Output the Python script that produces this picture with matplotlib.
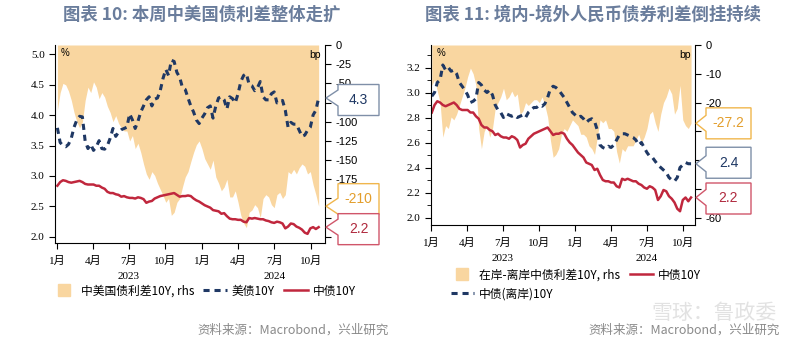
import pandas as pd
import matplotlib
matplotlib.use('Agg')
import matplotlib.pyplot as plt
import matplotlib.transforms as mtransforms
from matplotlib.patches import Polygon
from matplotlib.lines import Line2D
from matplotlib.ticker import FormatStrFormatter, MultipleLocator

plt.rcParams['font.family'] = ['Liberation Serif', 'Noto Sans CJK SC']

# weekly observations starting first Monday of 2023
dates = pd.date_range('2023-01-02', periods=95, freq='7D')

us_10y = [3.79, 3.55, 3.50, 3.48, 3.52, 3.62, 3.80, 3.92, 3.98, 3.97,
          3.57, 3.45, 3.52, 3.42, 3.48, 3.58, 3.45, 3.44, 3.50, 3.62,
          3.78, 3.65, 3.72, 3.76, 3.78, 3.80, 4.02, 3.92, 3.78, 3.90,
          4.05, 4.15, 4.25, 4.30, 4.15, 4.26, 4.28, 4.40, 4.60, 4.75,
          4.65, 4.90, 4.88, 4.70, 4.62, 4.45, 4.42, 4.28, 4.15, 4.05,
          3.92, 3.86, 3.95, 4.02, 4.12, 4.15, 3.95, 4.15, 4.28, 4.30,
          4.25, 4.10, 4.30, 4.27, 4.20, 4.35, 4.55, 4.65, 4.68, 4.50,
          4.48, 4.40, 4.45, 4.55, 4.30, 4.25, 4.25, 4.35, 4.38, 4.20,
          4.20, 4.24, 4.08, 3.80, 3.88, 3.85, 3.85, 3.75, 3.65, 3.67,
          3.75, 3.80, 4.00, 4.08, 4.28]

cn_10y = [2.84, 2.90, 2.93, 2.92, 2.90, 2.89, 2.90, 2.91, 2.92, 2.90,
          2.87, 2.86, 2.86, 2.86, 2.84, 2.84, 2.81, 2.79, 2.74, 2.72,
          2.72, 2.70, 2.69, 2.66, 2.67, 2.65, 2.64, 2.64, 2.63, 2.65,
          2.64, 2.62, 2.56, 2.58, 2.59, 2.63, 2.65, 2.67, 2.68, 2.69,
          2.70, 2.71, 2.72, 2.69, 2.66, 2.67, 2.67, 2.68, 2.67, 2.63,
          2.60, 2.58, 2.55, 2.52, 2.50, 2.48, 2.44, 2.43, 2.42, 2.38,
          2.39, 2.34, 2.30, 2.29, 2.29, 2.28, 2.28, 2.25, 2.24, 2.31,
          2.30, 2.31, 2.30, 2.29, 2.29, 2.27, 2.26, 2.24, 2.23, 2.25,
          2.24, 2.22, 2.14, 2.17, 2.22, 2.21, 2.17, 2.15, 2.12, 2.07,
          2.05, 2.14, 2.16, 2.13, 2.16]

# China minus US 10Y, bp
cn_us_spread = [-85, -62, -50, -52, -60, -72, -88, -100, -108, -100,
                -72, -55, -62, -48, -55, -70, -62, -68, -80, -88,
                -100, -92, -102, -108, -112, -112, -125, -118, -135, -128,
                -140, -155, -168, -175, -165, -170, -180, -188, -196, -205,
                -200, -222, -218, -205, -200, -185, -172, -165, -152, -140,
                -130, -125, -135, -148, -155, -162, -150, -172, -180, -190,
                -185, -175, -198, -198, -190, -205, -222, -232, -238, -218,
                -215, -208, -212, -225, -200, -195, -198, -208, -212, -195,
                -192, -200, -195, -165, -168, -162, -168, -160, -155, -158,
                -168, -165, -182, -195, -210]

cn_offshore_10y = [2.97, 3.00, 3.08, 3.10, 3.22, 3.18, 3.20, 3.17, 3.18, 3.15,
                   3.08, 3.05, 3.02, 2.98, 2.92, 2.93, 2.95, 3.08, 3.06, 3.02,
                   3.00, 3.02, 2.98, 2.90, 2.86, 2.84, 2.80, 2.83, 2.82, 2.81,
                   2.82, 2.80, 2.81, 2.82, 2.80, 2.84, 2.86, 2.88, 2.88, 2.90,
                   2.89, 2.91, 2.96, 3.03, 3.05, 3.04, 3.02, 2.99, 2.96, 2.92,
                   2.88, 2.84, 2.82, 2.80, 2.81, 2.79, 2.76, 2.78, 2.79, 2.77,
                   2.70, 2.58, 2.56, 2.55, 2.57, 2.56, 2.58, 2.62, 2.66, 2.67,
                   2.67, 2.66, 2.65, 2.64, 2.62, 2.58, 2.60, 2.56, 2.52, 2.49,
                   2.48, 2.45, 2.42, 2.40, 2.38, 2.36, 2.32, 2.30, 2.29, 2.32,
                   2.40, 2.42, 2.44, 2.43, 2.43]

# onshore minus offshore 10Y, bp
on_off_spread = [-14, -12, -16, -20, -32, -28, -29, -25, -26, -24,
                 -21, -18, -15, -11, -8, -10, -14, -29, -36, -30,
                 -28, -32, -29, -22, -20, -18, -15, -19, -18, -16,
                 -18, -17, -24, -23, -20, -21, -20, -19, -19, -20,
                 -18, -21, -25, -33, -39, -38, -36, -31, -29, -30,
                 -28, -26, -27, -28, -31, -31, -32, -35, -36, -38,
                 -32, -26, -27, -26, -29, -29, -30, -37, -41, -36,
                 -37, -35, -35, -35, -33, -31, -34, -32, -29, -24,
                 -23, -27, -30, -24, -20, -18, -15, -17, -24, -22,
                 -14, -26, -28, -29, -27.2]

month_ticks = pd.to_datetime(['2023-01-01', '2023-04-01', '2023-07-01', '2023-10-01',
                              '2024-01-01', '2024-04-01', '2024-07-01', '2024-10-01'])
month_labels = ['1月', '4月', '7月', '10月', '1月', '4月', '7月', '10月']
year_labels = ['2023', '2024']
year_pos = pd.to_datetime(['2023-07-01', '2024-07-01'])

FILL = '#f9d6a0'
NAVY = '#1f3864'
RED = '#c0273d'
TITLE = '#6a7d9c'
CJK = ['Noto Sans CJK SC', 'DejaVu Sans']

W, H = 800, 343
fig = plt.figure(figsize=(W / 100, H / 100), dpi=100)


def px_rect(l, t, r, b):
    return [l / W, 1 - b / H, (r - l) / W, (b - t) / H]


def setup(ax, ax2, xlim):
    ax.set_zorder(ax2.get_zorder() + 1)
    ax.patch.set_visible(False)
    for s in ['top', 'right']:
        ax.spines[s].set_visible(False)
    for s in ['top', 'left', 'bottom']:
        ax2.spines[s].set_visible(False)
    ax.set_xlim(pd.Timestamp(xlim[0]), pd.Timestamp(xlim[1]))
    ax.set_xticks(month_ticks)
    ax.set_xticklabels(month_labels)
    ax.tick_params(axis='x', direction='out', length=4, pad=5, labelsize=8)
    ax.tick_params(axis='y', direction='out', length=4, labelsize=8)
    ax.tick_params(axis='y', which='minor', direction='out', length=3)
    ax2.tick_params(axis='y', direction='out', length=4, labelsize=8)
    for x, y in zip(year_pos, year_labels):
        ax.annotate(y, xy=(x, 0), xycoords=('data', 'axes fraction'),
                    xytext=(0, -24), textcoords='offset points',
                    ha='center', va='center', fontsize=8)
    ax.text(0.02, 0.985, '%', transform=ax.transAxes, fontsize=7,
            family='Liberation Sans', va='top', ha='left')
    ax.text(0.985, 0.975, 'bp', transform=ax.transAxes, fontsize=7.5,
            family='Liberation Sans', va='top', ha='right')


def rhs_ticks(ax2, ticks, hidden):
    # labels sitting behind the value callouts are left blank
    ax2.set_yticks(ticks)
    ax2.set_yticklabels(['' if t in hidden else str(t) for t in ticks],
                        family='Liberation Sans')


def callout(ax, value, text, edge, color, dy=0, gap=12, width=41, height=31, notch=8):
    tr = mtransforms.blended_transform_factory(ax.transAxes, ax.transData)
    tx, ty = tr.transform((1, value))
    tx += 1
    cy = ty + dy
    left, right = tx + gap, tx + gap + width
    top, bot = cy + height / 2, cy - height / 2
    n_top, n_bot = min(ty + notch, top), max(ty - notch, bot)
    pts = [(left, top), (right, top), (right, bot), (left, bot),
           (left, n_bot), (tx, ty), (left, n_top)]
    pts = fig.transFigure.inverted().transform(pts)
    fig.add_artist(Polygon(pts, closed=True, transform=fig.transFigure,
                           fc='white', ec=edge, lw=1.0, zorder=5))
    fx, fy = fig.transFigure.inverted().transform(((left + right) / 2, cy))
    fig.text(fx, fy, text, color=color, ha='center', va='center', fontsize=10,
             family='Liberation Sans', zorder=6)


# ---- 图表 10 ----
axL = fig.add_axes(px_rect(55, 45, 325, 243))
axL2 = axL.twinx()
axL2.fill_between(dates, cn_us_spread, 0, color=FILL, lw=0)
axL.plot(dates, us_10y, color=NAVY, lw=2.2, ls=(0, (2.0, 1.6)))
axL.plot(dates, cn_10y, color=RED, lw=1.8)
axL.set_ylim(1.9, 5.15)
axL.set_yticks([2.0, 2.5, 3.0, 3.5, 4.0, 4.5, 5.0])
axL.yaxis.set_major_formatter(FormatStrFormatter('%.1f'))
axL2.set_ylim(-258, 0)
setup(axL, axL2, ('2022-12-27', '2024-11-06'))
rhs_ticks(axL2, list(range(0, -251, -25)), {-75, -200, -225, -250})

callout(axL, us_10y[-1], f'{us_10y[-1]:.1f}', '#7f8fa8', NAVY, dy=-2)
callout(axL2, cn_us_spread[-1], f'{cn_us_spread[-1]:.0f}', '#f0b64c', '#e39e2c', dy=7)
callout(axL, cn_10y[-1], f'{cn_10y[-1]:.1f}', '#d0566a', '#b02a3e', dy=-2)

# ---- 图表 11 ----
axR = fig.add_axes(px_rect(431, 45, 695, 225))
axR2 = axR.twinx()
axR2.fill_between(dates, on_off_spread, 0, color=FILL, lw=0)
axR.plot(dates, cn_offshore_10y, color=NAVY, lw=2.2, ls=(0, (2.0, 1.6)))
axR.plot(dates, cn_10y, color=RED, lw=1.8)
axR.set_ylim(1.94, 3.38)
axR.set_yticks([2.0, 2.2, 2.4, 2.6, 2.8, 3.0, 3.2])
axR.yaxis.set_minor_locator(MultipleLocator(0.1))
axR.yaxis.set_major_formatter(FormatStrFormatter('%.1f'))
axR2.set_ylim(-62.5, 0)
setup(axR, axR2, ('2022-12-31', '2024-10-31'))
rhs_ticks(axR2, list(range(0, -61, -10)), {-30, -40, -50})

callout(axR2, on_off_spread[-1], f'{on_off_spread[-1]:.1f}', '#f0b64c', '#e39e2c',
        gap=10, width=45)
callout(axR, cn_offshore_10y[-1], f'{cn_offshore_10y[-1]:.1f}', '#7f8fa8', NAVY,
        gap=10, width=45, dy=1)
callout(axR, cn_10y[-1], f'{cn_10y[-1]:.1f}', '#d0566a', '#b02a3e',
        gap=10, width=45, dy=-1)

# titles
fig.text(202 / W, 1 - 15 / H, '图表 10: 本周中美国债利差整体走扩', ha='center', va='center',
         fontsize=12.5, fontweight='bold', color=TITLE, family=CJK)
fig.text(593 / W, 1 - 15 / H, '图表 11: 境内-境外人民币债券利差倒挂持续', ha='center', va='center',
         fontsize=12.5, fontweight='bold', color=TITLE, family=CJK)

# legends
sq = Line2D([], [], marker='s', ms=8, color=FILL, ls='none')
dash = Line2D([], [], color=NAVY, lw=2.2, ls=(0, (2.0, 1.6)))
solid = Line2D([], [], color=RED, lw=1.8)
fig.legend([sq, dash, solid], ['中美国债利差10Y, rhs', '美债10Y', '中债10Y'],
           loc='center', bbox_to_anchor=(204 / W, 1 - 291 / H), ncol=3, frameon=False,
           prop={'family': CJK, 'size': 8.5}, handlelength=2.0, handletextpad=0.4,
           columnspacing=0.8)
fig.legend([sq, dash, solid], ['在岸-离岸中债利差10Y, rhs', '中债(离岸)10Y', '中债10Y'],
           loc='upper left', bbox_to_anchor=(440 / W, 1 - 258 / H), ncol=2, frameon=False,
           prop={'family': CJK, 'size': 8.5}, handlelength=2.0, handletextpad=0.4,
           columnspacing=0.8, labelspacing=0.5)

# sources
fig.text(389 / W, 1 - 330 / H, '资料来源：Macrobond，兴业研究', ha='right', va='center',
         fontsize=9, color='#8a8a8a', family=CJK)
fig.text(780 / W, 1 - 330 / H, '资料来源：Macrobond，兴业研究', ha='right', va='center',
         fontsize=9, color='#8a8a8a', family=CJK)
fig.text(777 / W, 1 - 313 / H, '雪球：鲁政委', ha='right', va='center',
         fontsize=15, color='#e2e2e2', family=CJK, zorder=0)

fig.savefig('out.png', dpi=100)
